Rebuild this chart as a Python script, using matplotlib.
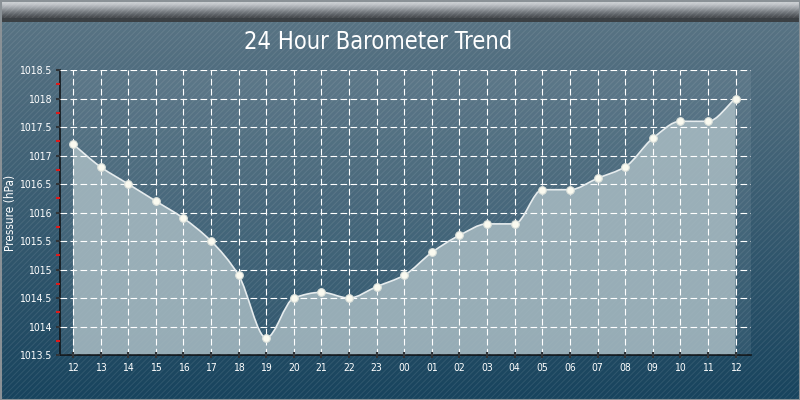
import numpy as np
import matplotlib
matplotlib.use("Agg")
from matplotlib import pyplot as plt
from matplotlib.path import Path
from matplotlib.patches import PathPatch, Rectangle

hours = ["12", "13", "14", "15", "16", "17", "18", "19", "20", "21", "22", "23",
         "00", "01", "02", "03", "04", "05", "06", "07", "08", "09", "10", "11", "12"]
pressure = [1017.2, 1016.8, 1016.5, 1016.2, 1015.9, 1015.5, 1014.9, 1013.8,
            1014.5, 1014.6, 1014.5, 1014.7, 1014.9, 1015.3, 1015.6, 1015.8,
            1015.8, 1016.4, 1016.4, 1016.6, 1016.8, 1017.3, 1017.6, 1017.6, 1018.0]
y_ticks = [1013.5, 1014, 1014.5, 1015, 1015.5, 1016, 1016.5, 1017, 1017.5, 1018, 1018.5]
y_labels = ["1013.5", "1014", "1014.5", "1015", "1015.5", "1016", "1016.5",
            "1017", "1017.5", "1018", "1018.5"]

plt.rcParams['font.family'] = ['DejaVu Sans']
plt.rcParams['hatch.linewidth'] = 0.7


def monotone_path(x, y, close_to=None):
    # monotone cubic hermite, written as bezier segments
    x = np.asarray(x, float)
    y = np.asarray(y, float)
    h = np.diff(x)
    d = np.diff(y) / h
    m = np.zeros_like(y)
    m[0] = d[0]
    m[-1] = d[-1]
    for k in range(1, len(y) - 1):
        if d[k - 1] * d[k] <= 0:
            m[k] = 0
        else:
            m[k] = 2 / (1 / d[k - 1] + 1 / d[k])
    verts = [(x[0], y[0])]
    codes = [Path.MOVETO]
    for k in range(len(x) - 1):
        verts += [(x[k] + h[k] / 3, y[k] + m[k] * h[k] / 3),
                  (x[k + 1] - h[k] / 3, y[k + 1] - m[k + 1] * h[k] / 3),
                  (x[k + 1], y[k + 1])]
        codes += [Path.CURVE4] * 3
    if close_to is not None:
        verts += [(x[-1], close_to), (x[0], close_to), (x[0], y[0])]
        codes += [Path.LINETO, Path.LINETO, Path.CLOSEPOLY]
    return Path(verts, codes)


fig = plt.figure(figsize=(8, 4), dpi=100)

# background: gradient + stripes + header bar
bg = fig.add_axes([0, 0, 1, 1], zorder=0)
bg.set_xlim(0, 800)
bg.set_ylim(400, 0)
bg.axis('off')
top = np.array([92, 118, 134]) / 255
bot = np.array([24, 68, 94]) / 255
t = np.linspace(0, 1, 256)[:, None]
grad = (top * (1 - t) + bot * t)[:, None, :]
bg.imshow(grad, extent=[0, 800, 400, 0], aspect='auto', interpolation='bilinear')
bg.add_patch(Rectangle((0, 0), 800, 400, facecolor='none', edgecolor=(1, 1, 1, 0.09),
                       hatch='//////', linewidth=0))
head = np.array([[210, 214, 217], [190, 194, 198], [160, 165, 170], [125, 130, 135],
                 [95, 100, 105], [70, 74, 78]]) / 255
bg.imshow(head[:, None, :], extent=[0, 800, 19, 0], aspect='auto', interpolation='bilinear')
bg.add_patch(Rectangle((0, 18), 800, 4, color='#3b4044', linewidth=0))
bg.add_patch(Rectangle((0.5, 0.5), 799, 399, facecolor='none', edgecolor='#8a9196', linewidth=1.5))

ax = fig.add_axes([60 / 800, 1 - 355 / 400, 691 / 800, 285 / 400], zorder=1)
ax.patch.set_facecolor((1, 1, 1, 0.08))
x = np.arange(len(pressure))
ax.set_xlim(-0.47, 24.56)
ax.set_ylim(1013.5, 1018.5)

fill = PathPatch(monotone_path(x, pressure, close_to=1013.5), facecolor='#a9bcc3',
                 edgecolor='none', alpha=0.85, zorder=2)
ax.add_patch(fill)
line = PathPatch(monotone_path(x, pressure), facecolor='none', edgecolor='#e6ecee',
                 linewidth=1.2, zorder=3)
ax.add_patch(line)
ax.plot(x, pressure, 'o', color='#fafaf0', markersize=5.5, markeredgecolor='#dde2dc',
        markeredgewidth=0.8, zorder=4)

ax.set_xticks(x)
ax.set_xticklabels(hours)
ax.set_yticks(y_ticks)
ax.set_yticklabels(y_labels)
ax.set_yticks(np.arange(1013.75, 1018.5, 0.5), minor=True)
ax.grid(True, color=(1, 1, 1, 0.2), linestyle=(0, (6, 3)), linewidth=0.8, zorder=2.5)
ax.set_axisbelow(False)
for g in ax.get_xgridlines() + ax.get_ygridlines():
    g.set_zorder(2.5)

for s in ['top', 'right']:
    ax.spines[s].set_visible(False)
for s in ['left', 'bottom']:
    ax.spines[s].set_color('#101418')
    ax.spines[s].set_linewidth(1.2)
ax.tick_params(axis='both', which='major', colors='#303438', labelcolor='white',
               labelsize=7.5, width=1.5)
ax.tick_params(axis='y', which='major', direction='out', length=3, pad=3)
ax.tick_params(axis='x', which='major', direction='inout', length=5, pad=3)
ax.tick_params(axis='y', which='minor', colors='#e01818', length=3, width=1.5, direction='out')
for lab in ax.get_yticklabels() + ax.get_xticklabels():
    lab.set_fontstretch('condensed')

ax.set_ylabel('Pressure (hPa)', color='white', fontsize=8.5, fontstretch='condensed')
ax.yaxis.set_label_coords(-0.062, 0.5)

fig.text(378 / 800, 1 - 42 / 400, '24 Hour Barometer Trend', color='white', fontsize=17,
         ha='center', va='center', fontstretch='condensed')

fig.savefig('out.png', dpi=100)
